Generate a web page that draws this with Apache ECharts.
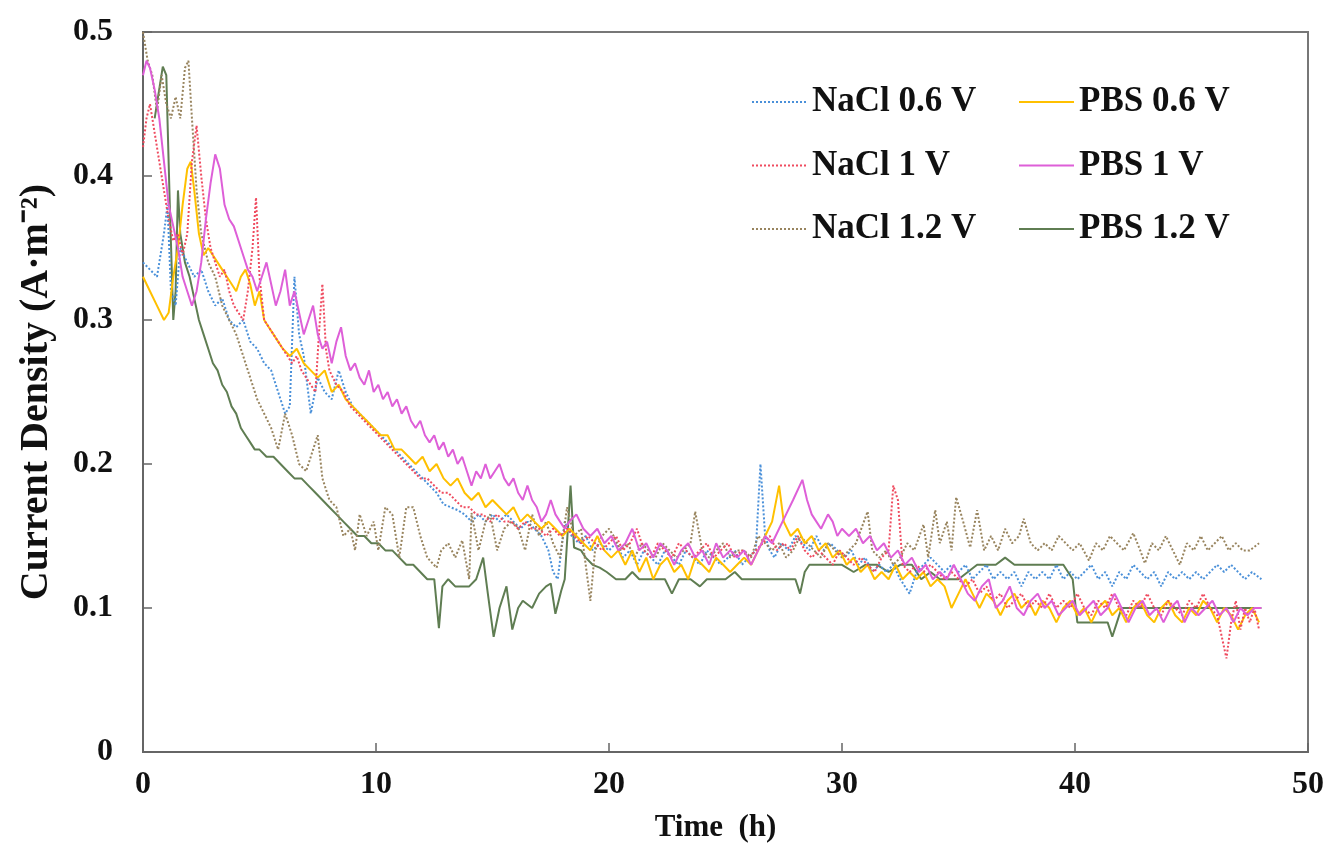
<!DOCTYPE html>
<html>
<head>
<meta charset="utf-8">
<script src="https://cdn.jsdelivr.net/npm/echarts@6/dist/echarts.min.js"></script>
<style>html,body{margin:0;padding:0;background:#fff;}#c{width:1335px;height:850px;}</style>
</head>
<body>
<div id="c"></div>
<script>
// ---- data: [time (h), current density (A·m-2)] ----
const seriesNames = ['NaCl 0.6 V','NaCl 1 V','NaCl 1.2 V','PBS 0.6 V','PBS 1 V','PBS 1.2 V'];
const xTicks = [0,10,20,30,40,50];
const yTicks = [0,0.1,0.2,0.3,0.4,0.5];

const nacl06 = [[0,0.34],[0.3,0.335],[0.6,0.33],[0.9,0.36],[1.05,0.38],[1.2,0.32],[1.4,0.31],[1.6,0.35],[1.9,0.34],[2.2,0.33],[2.5,0.335],[2.8,0.32],[3.1,0.31],[3.4,0.315],[3.7,0.3],[4.0,0.295],[4.3,0.3],[4.6,0.285],[4.9,0.28],[5.2,0.27],[5.5,0.265],[5.8,0.25],[6.1,0.235],[6.3,0.24],[6.5,0.33],[6.7,0.29],[6.9,0.275],[7.2,0.235],[7.5,0.26],[7.8,0.25],[8.1,0.245],[8.4,0.265],[8.7,0.25],[9.0,0.24],[9.3,0.235],[9.6,0.23],[9.9,0.225],[10.2,0.22],[10.5,0.215],[10.8,0.21],[11.1,0.205],[11.4,0.2],[11.7,0.195],[12.0,0.19],[12.3,0.185],[12.6,0.18],[12.9,0.172],[13.2,0.17],[13.5,0.168],[13.8,0.165],[14.1,0.16],[14.4,0.165],[14.7,0.16],[15.0,0.165],[15.3,0.16],[15.6,0.165],[15.9,0.16],[16.2,0.155],[16.5,0.16],[16.8,0.155],[17.1,0.15],[17.4,0.14],[17.6,0.125],[17.8,0.12],[18.1,0.16],[18.4,0.15],[18.7,0.145],[19.0,0.15],[19.3,0.14],[19.6,0.145],[20.0,0.14],[20.3,0.145],[20.6,0.135],[20.9,0.14],[21.2,0.13],[21.5,0.14],[21.8,0.135],[22.1,0.13],[22.4,0.14],[22.7,0.135],[23.0,0.13],[23.3,0.14],[23.6,0.135],[23.9,0.13],[24.2,0.14],[24.5,0.135],[24.8,0.13],[25.1,0.135],[25.4,0.14],[25.7,0.13],[26.0,0.135],[26.3,0.14],[26.5,0.2],[26.7,0.15],[26.9,0.14],[27.1,0.135],[27.4,0.145],[27.7,0.14],[28.0,0.15],[28.3,0.145],[28.6,0.14],[28.9,0.15],[29.2,0.14],[29.5,0.145],[29.8,0.14],[30.1,0.135],[30.4,0.14],[30.7,0.13],[31.0,0.135],[31.3,0.125],[31.6,0.13],[31.9,0.125],[32.2,0.13],[32.5,0.12],[32.9,0.11],[33.2,0.125],[33.5,0.13],[33.8,0.135],[34.1,0.13],[34.4,0.125],[34.7,0.13],[35.0,0.125],[35.3,0.13],[35.6,0.12],[35.9,0.125],[36.2,0.13],[36.5,0.12],[36.8,0.125],[37.1,0.12],[37.4,0.125],[37.7,0.115],[38.0,0.125],[38.3,0.12],[38.6,0.125],[38.9,0.12],[39.2,0.13],[39.5,0.12],[39.8,0.125],[40.1,0.12],[40.4,0.125],[40.7,0.13],[41.0,0.12],[41.3,0.125],[41.6,0.115],[41.9,0.125],[42.2,0.12],[42.5,0.13],[42.8,0.125],[43.1,0.12],[43.4,0.125],[43.7,0.115],[44.0,0.125],[44.3,0.12],[44.6,0.125],[44.9,0.12],[45.2,0.125],[45.5,0.12],[45.8,0.125],[46.1,0.13],[46.4,0.125],[46.7,0.13],[47.0,0.125],[47.3,0.12],[47.6,0.125],[48.0,0.12]];

const nacl1 = [[0,0.42],[0.15,0.44],[0.3,0.45],[0.5,0.43],[0.7,0.41],[0.9,0.39],[1.1,0.37],[1.3,0.355],[1.5,0.36],[1.7,0.345],[1.9,0.36],[2.1,0.41],[2.3,0.435],[2.5,0.4],[2.7,0.37],[2.9,0.35],[3.1,0.34],[3.3,0.33],[3.5,0.335],[3.7,0.32],[3.9,0.31],[4.1,0.305],[4.3,0.3],[4.5,0.32],[4.7,0.35],[4.85,0.385],[5.0,0.33],[5.2,0.3],[5.4,0.295],[5.6,0.29],[5.8,0.285],[6.0,0.28],[6.2,0.275],[6.4,0.27],[6.6,0.275],[6.8,0.265],[7.0,0.26],[7.2,0.255],[7.4,0.25],[7.55,0.29],[7.7,0.325],[7.85,0.28],[8.0,0.265],[8.3,0.255],[8.6,0.25],[8.9,0.24],[9.2,0.235],[9.5,0.23],[9.8,0.225],[10.1,0.22],[10.4,0.215],[10.7,0.21],[11.0,0.205],[11.3,0.2],[11.6,0.195],[11.9,0.19],[12.2,0.19],[12.5,0.185],[12.8,0.18],[13.1,0.18],[13.4,0.175],[13.7,0.17],[14.0,0.17],[14.3,0.165],[14.6,0.165],[14.9,0.16],[15.2,0.165],[15.5,0.16],[15.8,0.16],[16.1,0.155],[16.4,0.16],[16.7,0.155],[17.0,0.155],[17.3,0.15],[17.6,0.155],[17.9,0.15],[18.2,0.155],[18.5,0.15],[18.8,0.145],[19.1,0.15],[19.4,0.145],[19.7,0.14],[20.0,0.145],[20.3,0.15],[20.6,0.14],[20.9,0.145],[21.2,0.155],[21.5,0.14],[21.8,0.135],[22.1,0.145],[22.4,0.14],[22.7,0.135],[23.0,0.145],[23.3,0.14],[23.6,0.135],[23.9,0.14],[24.2,0.145],[24.5,0.135],[24.8,0.14],[25.1,0.145],[25.4,0.135],[25.7,0.14],[26.0,0.135],[26.3,0.14],[26.6,0.145],[26.9,0.15],[27.2,0.14],[27.5,0.145],[27.8,0.14],[28.1,0.15],[28.4,0.14],[28.7,0.135],[29.0,0.14],[29.3,0.135],[29.6,0.13],[29.9,0.14],[30.2,0.135],[30.5,0.13],[30.8,0.135],[31.1,0.13],[31.4,0.125],[31.7,0.135],[32.0,0.14],[32.2,0.185],[32.4,0.175],[32.6,0.13],[32.9,0.125],[33.2,0.13],[33.5,0.125],[33.8,0.13],[34.1,0.125],[34.4,0.12],[34.7,0.125],[35.0,0.12],[35.3,0.115],[35.6,0.12],[35.9,0.11],[36.2,0.115],[36.5,0.105],[36.8,0.11],[37.1,0.1],[37.4,0.105],[37.7,0.11],[38.0,0.1],[38.3,0.105],[38.6,0.1],[38.9,0.11],[39.2,0.1],[39.5,0.105],[39.8,0.1],[40.1,0.11],[40.4,0.1],[40.7,0.095],[41.0,0.105],[41.3,0.1],[41.6,0.11],[41.9,0.1],[42.2,0.095],[42.5,0.105],[42.8,0.1],[43.1,0.11],[43.4,0.1],[43.7,0.095],[44.0,0.105],[44.3,0.1],[44.6,0.095],[44.9,0.105],[45.2,0.1],[45.5,0.11],[45.8,0.1],[46.1,0.095],[46.3,0.08],[46.5,0.065],[46.7,0.09],[46.9,0.105],[47.1,0.085],[47.3,0.1],[47.5,0.09],[47.7,0.1],[47.9,0.085]];

const nacl12 = [[0,0.5],[0.2,0.48],[0.4,0.47],[0.6,0.445],[0.8,0.47],[1.0,0.45],[1.2,0.44],[1.4,0.455],[1.6,0.44],[1.8,0.475],[1.95,0.48],[2.1,0.44],[2.3,0.39],[2.5,0.36],[2.8,0.34],[3.1,0.33],[3.4,0.31],[3.7,0.3],[4.0,0.29],[4.3,0.275],[4.6,0.26],[4.9,0.245],[5.2,0.235],[5.5,0.225],[5.8,0.21],[6.1,0.235],[6.4,0.22],[6.7,0.2],[7.0,0.195],[7.3,0.21],[7.5,0.22],[7.7,0.19],[8.0,0.175],[8.3,0.17],[8.6,0.15],[8.9,0.155],[9.1,0.14],[9.3,0.165],[9.6,0.15],[9.9,0.16],[10.1,0.14],[10.4,0.17],[10.7,0.165],[11.0,0.135],[11.3,0.17],[11.6,0.17],[11.9,0.15],[12.2,0.135],[12.6,0.128],[12.8,0.14],[13.1,0.145],[13.4,0.135],[13.7,0.147],[14.0,0.12],[14.1,0.166],[14.4,0.14],[14.7,0.16],[14.9,0.165],[15.2,0.14],[15.5,0.155],[15.8,0.16],[16.1,0.156],[16.4,0.14],[16.7,0.165],[17.0,0.15],[17.3,0.16],[17.6,0.145],[17.9,0.135],[18.2,0.17],[18.5,0.15],[18.8,0.155],[19.2,0.105],[19.4,0.14],[19.7,0.15],[20.0,0.155],[20.2,0.15],[20.5,0.14],[20.8,0.145],[21.1,0.135],[21.4,0.145],[21.7,0.14],[22.0,0.135],[22.3,0.145],[22.6,0.14],[22.9,0.135],[23.2,0.14],[23.5,0.145],[23.7,0.167],[24.0,0.14],[24.3,0.135],[24.6,0.14],[24.9,0.145],[25.2,0.135],[25.5,0.14],[25.8,0.14],[26.1,0.135],[26.4,0.15],[26.7,0.145],[27.0,0.14],[27.3,0.145],[27.6,0.135],[27.9,0.14],[28.2,0.15],[28.5,0.145],[28.8,0.14],[29.1,0.135],[29.4,0.145],[29.7,0.14],[30.0,0.135],[30.3,0.14],[30.6,0.145],[31.1,0.167],[31.3,0.14],[31.6,0.135],[31.9,0.14],[32.2,0.13],[32.5,0.135],[32.8,0.145],[33.1,0.14],[33.5,0.158],[33.7,0.135],[34.0,0.168],[34.2,0.145],[34.5,0.16],[34.7,0.14],[34.9,0.177],[35.2,0.16],[35.5,0.142],[35.8,0.168],[36.1,0.14],[36.4,0.15],[36.7,0.14],[37.0,0.155],[37.3,0.145],[37.6,0.15],[37.8,0.162],[38.1,0.145],[38.4,0.14],[38.7,0.145],[39.0,0.14],[39.3,0.15],[39.6,0.145],[39.9,0.14],[40.2,0.145],[40.6,0.133],[40.9,0.145],[41.2,0.14],[41.5,0.15],[41.8,0.145],[42.1,0.14],[42.5,0.152],[42.8,0.14],[43.0,0.131],[43.3,0.145],[43.6,0.14],[43.9,0.15],[44.2,0.14],[44.5,0.13],[44.8,0.145],[45.1,0.14],[45.4,0.15],[45.7,0.14],[46.0,0.145],[46.3,0.15],[46.6,0.14],[46.9,0.145],[47.2,0.14],[47.5,0.14],[47.9,0.145]];

const pbs06 = [[0,0.33],[0.3,0.32],[0.6,0.31],[0.9,0.3],[1.1,0.305],[1.3,0.33],[1.5,0.35],[1.7,0.38],[1.9,0.405],[2.05,0.41],[2.2,0.39],[2.4,0.36],[2.6,0.345],[2.8,0.35],[3.0,0.345],[3.2,0.34],[3.4,0.335],[3.6,0.33],[3.8,0.325],[4.0,0.32],[4.2,0.33],[4.4,0.335],[4.6,0.325],[4.8,0.31],[5.0,0.32],[5.2,0.3],[5.4,0.295],[5.6,0.29],[5.8,0.285],[6.0,0.28],[6.3,0.275],[6.6,0.28],[6.9,0.27],[7.2,0.265],[7.5,0.26],[7.8,0.265],[8.1,0.25],[8.4,0.255],[8.7,0.245],[9.0,0.24],[9.3,0.235],[9.6,0.23],[9.9,0.225],[10.2,0.22],[10.5,0.22],[10.8,0.21],[11.1,0.21],[11.4,0.205],[11.7,0.2],[12.0,0.205],[12.3,0.195],[12.6,0.2],[12.9,0.19],[13.2,0.185],[13.5,0.19],[13.8,0.18],[14.1,0.175],[14.4,0.18],[14.7,0.17],[15.0,0.175],[15.3,0.17],[15.6,0.165],[15.9,0.17],[16.2,0.16],[16.5,0.165],[16.8,0.16],[17.1,0.155],[17.4,0.16],[17.7,0.155],[18.0,0.15],[18.3,0.155],[18.6,0.15],[18.9,0.145],[19.2,0.14],[19.5,0.15],[19.8,0.14],[20.1,0.135],[20.4,0.14],[20.7,0.13],[21.0,0.14],[21.3,0.125],[21.6,0.135],[21.9,0.12],[22.2,0.13],[22.5,0.135],[22.8,0.125],[23.1,0.13],[23.4,0.12],[23.7,0.135],[24.0,0.13],[24.3,0.125],[24.6,0.135],[24.9,0.13],[25.2,0.125],[25.5,0.13],[25.8,0.135],[26.1,0.13],[26.4,0.14],[26.7,0.15],[27.0,0.16],[27.3,0.185],[27.5,0.16],[27.8,0.15],[28.1,0.155],[28.4,0.145],[28.7,0.15],[29.0,0.14],[29.3,0.145],[29.6,0.135],[29.9,0.14],[30.2,0.13],[30.5,0.135],[30.8,0.125],[31.1,0.13],[31.4,0.12],[31.7,0.125],[32.0,0.12],[32.3,0.13],[32.6,0.12],[32.9,0.125],[33.2,0.12],[33.5,0.125],[33.8,0.115],[34.1,0.12],[34.4,0.115],[34.7,0.1],[35.0,0.11],[35.3,0.12],[35.6,0.11],[35.9,0.1],[36.2,0.11],[36.5,0.105],[36.8,0.095],[37.1,0.105],[37.4,0.11],[37.7,0.1],[38.0,0.105],[38.3,0.095],[38.6,0.105],[38.9,0.1],[39.2,0.09],[39.5,0.1],[39.8,0.105],[40.1,0.095],[40.4,0.1],[40.7,0.09],[41.0,0.1],[41.3,0.105],[41.6,0.095],[41.9,0.1],[42.2,0.09],[42.5,0.1],[42.8,0.105],[43.1,0.095],[43.4,0.09],[43.7,0.1],[44.0,0.105],[44.3,0.095],[44.6,0.09],[44.9,0.1],[45.2,0.095],[45.5,0.105],[45.8,0.1],[46.1,0.09],[46.4,0.1],[46.7,0.095],[47.0,0.085],[47.3,0.095],[47.6,0.1],[47.9,0.09]];

const pbs1 = [[0,0.47],[0.15,0.48],[0.3,0.475],[0.5,0.46],[0.7,0.44],[0.9,0.41],[1.1,0.38],[1.3,0.365],[1.5,0.35],[1.7,0.33],[1.9,0.32],[2.1,0.31],[2.3,0.32],[2.5,0.34],[2.7,0.37],[2.9,0.395],[3.1,0.415],[3.3,0.405],[3.5,0.38],[3.7,0.37],[3.9,0.365],[4.1,0.355],[4.3,0.345],[4.5,0.335],[4.7,0.33],[4.9,0.32],[5.1,0.33],[5.3,0.34],[5.5,0.325],[5.7,0.31],[5.9,0.32],[6.1,0.335],[6.3,0.31],[6.5,0.32],[6.7,0.305],[6.9,0.29],[7.1,0.3],[7.3,0.31],[7.5,0.29],[7.7,0.28],[7.9,0.285],[8.1,0.27],[8.3,0.285],[8.5,0.295],[8.7,0.275],[8.9,0.265],[9.1,0.27],[9.3,0.26],[9.5,0.255],[9.7,0.265],[9.9,0.25],[10.1,0.255],[10.3,0.245],[10.5,0.25],[10.7,0.24],[10.9,0.245],[11.1,0.235],[11.3,0.24],[11.5,0.23],[11.7,0.225],[11.9,0.23],[12.1,0.22],[12.3,0.215],[12.5,0.22],[12.7,0.21],[12.9,0.215],[13.1,0.205],[13.3,0.21],[13.5,0.2],[13.7,0.205],[13.9,0.195],[14.1,0.185],[14.3,0.195],[14.5,0.19],[14.7,0.2],[14.9,0.19],[15.1,0.195],[15.3,0.2],[15.5,0.19],[15.7,0.185],[15.9,0.19],[16.1,0.18],[16.3,0.175],[16.5,0.185],[16.7,0.175],[16.9,0.17],[17.1,0.16],[17.3,0.165],[17.5,0.175],[17.7,0.165],[17.9,0.16],[18.1,0.155],[18.3,0.16],[18.6,0.165],[18.9,0.155],[19.2,0.15],[19.5,0.155],[19.8,0.145],[20.1,0.15],[20.4,0.14],[20.7,0.145],[21.0,0.155],[21.3,0.14],[21.6,0.145],[21.9,0.135],[22.2,0.145],[22.5,0.14],[22.8,0.13],[23.1,0.14],[23.4,0.145],[23.7,0.135],[24.0,0.14],[24.3,0.13],[24.6,0.145],[24.9,0.135],[25.2,0.14],[25.5,0.135],[25.8,0.14],[26.1,0.13],[26.4,0.14],[26.7,0.15],[27.0,0.145],[27.3,0.155],[27.6,0.165],[27.9,0.175],[28.3,0.189],[28.5,0.175],[28.7,0.165],[28.9,0.16],[29.1,0.155],[29.4,0.165],[29.6,0.16],[29.8,0.15],[30.0,0.155],[30.3,0.15],[30.6,0.155],[30.9,0.145],[31.2,0.15],[31.5,0.14],[31.8,0.145],[32.1,0.135],[32.4,0.14],[32.7,0.13],[33.0,0.135],[33.3,0.125],[33.6,0.13],[33.9,0.12],[34.2,0.125],[34.5,0.12],[34.8,0.13],[35.1,0.12],[35.4,0.11],[35.7,0.105],[36.0,0.115],[36.3,0.12],[36.6,0.1],[36.9,0.105],[37.2,0.115],[37.5,0.1],[37.8,0.095],[38.1,0.105],[38.4,0.11],[38.7,0.1],[39.0,0.105],[39.3,0.095],[39.6,0.1],[39.9,0.105],[40.2,0.095],[40.5,0.1],[40.8,0.105],[41.1,0.095],[41.4,0.1],[41.7,0.11],[42.0,0.1],[42.3,0.09],[42.6,0.1],[42.9,0.105],[43.2,0.095],[43.5,0.1],[43.8,0.09],[44.1,0.1],[44.4,0.105],[44.7,0.09],[45.0,0.1],[45.3,0.095],[45.6,0.1],[45.9,0.105],[46.2,0.095],[46.5,0.1],[46.8,0.09],[47.1,0.1],[47.4,0.095],[47.7,0.1],[48.0,0.1]];

const pbs12 = [[0.5,0.44],[0.85,0.476],[1.0,0.47],[1.15,0.38],[1.3,0.3],[1.4,0.32],[1.5,0.39],[1.6,0.36],[1.8,0.34],[2.0,0.33],[2.2,0.315],[2.4,0.3],[2.6,0.29],[2.8,0.28],[3.0,0.27],[3.2,0.265],[3.4,0.255],[3.6,0.25],[3.8,0.24],[4.0,0.235],[4.2,0.225],[4.4,0.22],[4.6,0.215],[4.8,0.21],[5.0,0.21],[5.3,0.205],[5.6,0.205],[5.9,0.2],[6.2,0.195],[6.5,0.19],[6.8,0.19],[7.1,0.185],[7.4,0.18],[7.7,0.175],[8.0,0.17],[8.3,0.165],[8.6,0.16],[8.9,0.155],[9.2,0.15],[9.5,0.15],[9.8,0.145],[10.1,0.145],[10.4,0.14],[10.7,0.14],[11.0,0.135],[11.3,0.13],[11.6,0.13],[11.9,0.125],[12.2,0.12],[12.5,0.12],[12.7,0.086],[12.85,0.115],[13.1,0.12],[13.4,0.115],[13.7,0.115],[14.0,0.115],[14.3,0.12],[14.6,0.135],[14.8,0.11],[15.05,0.08],[15.3,0.1],[15.6,0.115],[15.85,0.085],[16.1,0.1],[16.3,0.105],[16.7,0.1],[17.0,0.11],[17.3,0.115],[17.5,0.117],[17.7,0.096],[17.95,0.112],[18.1,0.12],[18.35,0.185],[18.5,0.142],[18.8,0.14],[19.0,0.135],[19.3,0.13],[19.6,0.128],[19.9,0.125],[20.3,0.12],[20.7,0.12],[21.0,0.125],[21.3,0.12],[21.7,0.12],[22.0,0.12],[22.4,0.12],[22.7,0.11],[23.0,0.12],[23.5,0.12],[23.9,0.115],[24.2,0.12],[24.6,0.12],[25.0,0.12],[25.4,0.125],[25.7,0.12],[26.0,0.12],[26.5,0.12],[27.0,0.12],[27.5,0.12],[28.0,0.12],[28.2,0.11],[28.4,0.125],[28.6,0.13],[29.0,0.13],[29.5,0.13],[30.0,0.13],[30.5,0.125],[31.0,0.13],[31.5,0.13],[32.0,0.125],[32.5,0.13],[33.0,0.13],[33.4,0.12],[33.8,0.125],[34.2,0.12],[34.6,0.12],[35.0,0.12],[35.4,0.125],[35.8,0.13],[36.2,0.13],[36.6,0.13],[37.0,0.135],[37.4,0.13],[37.8,0.13],[38.2,0.13],[38.6,0.13],[39.0,0.13],[39.5,0.13],[39.9,0.12],[40.1,0.09],[40.5,0.09],[41.0,0.09],[41.4,0.09],[41.6,0.08],[41.8,0.09],[42.0,0.1],[43.0,0.1],[44.0,0.1],[45.0,0.1],[46.0,0.1],[47.0,0.1],[48.0,0.1]];

const seriesData = [nacl06, nacl1, nacl12, pbs06, pbs1, pbs12];
const seriesColors = ['#4A90D9','#EF4B5F','#98845E','#FFC000','#DE5FD8','#5F7D52'];
const seriesDash = ['dotted','dotted','dotted','solid','solid','solid'];

const FONT = "'Liberation Serif','Times New Roman',serif";
const chart = echarts.init(document.getElementById('c'), null, {renderer:'canvas'});

const series = seriesNames.map((n, i) => ({
  name: n,
  type: 'line',
  data: seriesData[i],
  symbol: 'none',
  smooth: false,
  lineStyle: {color: seriesColors[i], width: 2, type: seriesDash[i]},
  itemStyle: {color: seriesColors[i]},
  z: [2,5,3,4,6,1][i]
}));

const legendText = {fontFamily: FONT, fontWeight: 'bold', fontSize: 35, color: '#111', lineHeight: 36};
const legendCommon = {orient: 'vertical', top: 79, itemWidth: 55, itemHeight: 14, itemGap: 27.5,
  textStyle: legendText, itemStyle: {opacity: 0, borderWidth: 0}};
chart.setOption({
  animation: false,
  backgroundColor: '#fff',
  grid: {left: 143, right: 27, top: 32, bottom: 98, show: true, borderColor: '#777', borderWidth: 2, backgroundColor: 'transparent'},
  legend: [
    Object.assign({data: seriesNames.slice(0,3), left: 746}, legendCommon),
    Object.assign({data: seriesNames.slice(3), left: 1013}, legendCommon)
  ],
  xAxis: {
    type: 'value', min: xTicks[0], max: xTicks[xTicks.length-1], interval: 10,
    name: 'Time  (h)', nameLocation: 'middle', nameGap: 60,
    nameTextStyle: {fontFamily: FONT, fontWeight: 'bold', fontSize: 31, color: '#111', padding: [0, 20, 0, 0]},
    axisLine: {show: true, lineStyle: {color: '#666', width: 2}},
    axisTick: {show: true, inside: true, length: 9, lineStyle: {color: '#666', width: 1.5}},
    axisLabel: {fontFamily: FONT, fontWeight: 'bold', fontSize: 32, color: '#111', margin: 17},
    splitLine: {show: false}
  },
  yAxis: {
    type: 'value', min: yTicks[0], max: yTicks[yTicks.length-1], interval: 0.1,
    name: 'Current Density (A·m⁻²)', nameLocation: 'middle', nameGap: 86,
    nameTextStyle: {fontFamily: FONT, fontWeight: 'bold', fontSize: 40, color: '#111'},
    axisLine: {show: true, lineStyle: {color: '#666', width: 2}},
    axisTick: {show: true, inside: true, length: 9, lineStyle: {color: '#666', width: 1.5}},
    axisLabel: {fontFamily: FONT, fontWeight: 'bold', fontSize: 32, color: '#111', margin: 30},
    splitLine: {show: false}
  },
  series: series
});
</script>
</body>
</html>
